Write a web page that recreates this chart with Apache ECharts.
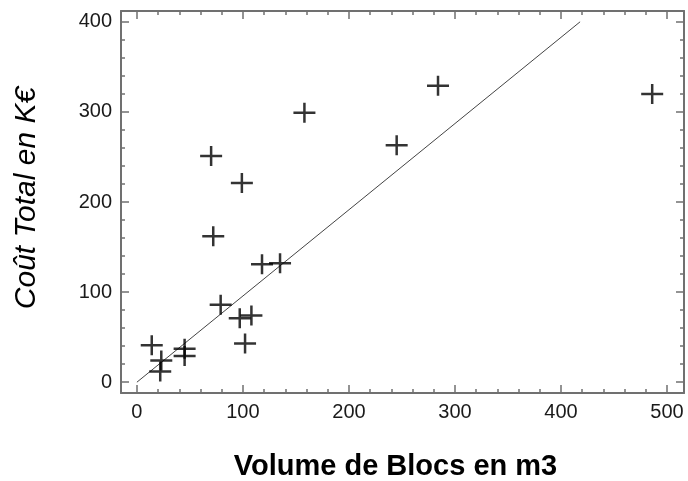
<!DOCTYPE html>
<html>
<head>
<meta charset="utf-8">
<script src="https://cdn.jsdelivr.net/npm/echarts@6/dist/echarts.min.js"></script>
<style>
  html, body { margin: 0; padding: 0; background: #fff; }
  #chart { width: 688px; height: 481px; }
</style>
</head>
<body>
<div id="chart"></div>
<script>
// Volume of blocks (m3) and total cost (K€) for each site
const volumes = [14, 23, 22, 45, 45, 70, 72, 79, 97, 108, 102, 118, 135, 99, 158, 245, 284, 486];
const costs   = [41, 24, 12, 37, 29, 251, 162, 86, 71, 74, 43, 131, 132, 221, 299, 263, 329, 320];

// Fitted trend line end points
const trendX = [0, 418];
const trendY = [0, 400];

const xRange = [-15, 516];
const yRange = [-12, 412];

const frameColor = '#707070';
const labelColor = '#1a1a1a';

// Plus-sign marker, 22 x 20 with arms about 2.5 px thick
const plusPath = 'path://M9.75,0H12.25V8.75H22V11.25H12.25V20H9.75V11.25H0V8.75H9.75Z';

function hundreds(v) { return Math.round(v) % 100 === 0 ? String(Math.round(v)) : ''; }

function makeAxis(range, pos, split, tickLen, opts) {
  return Object.assign({
    type: 'value',
    min: range[0],
    max: range[1],
    splitNumber: split,
    position: pos,
    axisLine: { show: false, onZero: false },
    axisTick: { show: true, inside: true, length: tickLen, lineStyle: { color: frameColor, width: 1.5 } },
    axisLabel: { show: false },
    splitLine: { show: false }
  }, opts || {});
}

const frameLine = { show: true, onZero: false, lineStyle: { color: frameColor, width: 2 } };
const tickFont = 'Liberation Sans, Arial, sans-serif';

const xAxes = [
  makeAxis(xRange, 'bottom', 5, 8, {
    axisLine: frameLine,
    axisLabel: { show: true, formatter: hundreds, fontSize: 20, color: labelColor, margin: 9,
                 fontFamily: tickFont, showMinLabel: false, showMaxLabel: false },
    name: 'Volume de Blocs en m3',
    nameLocation: 'middle',
    nameGap: 59,
    nameTextStyle: { fontSize: 29, fontWeight: 'bold', color: '#000',
                     fontFamily: tickFont, padding: [0, 14, 0, 0] }
  }),
  makeAxis(xRange, 'bottom', 26, 4),
  makeAxis(xRange, 'top', 5, 8, { axisLine: frameLine }),
  makeAxis(xRange, 'top', 26, 4)
];

const yAxes = [
  makeAxis(yRange, 'left', 4, 8, {
    axisLine: frameLine,
    axisLabel: { show: true, formatter: hundreds, fontSize: 20, color: labelColor, margin: 9,
                 fontFamily: tickFont, showMinLabel: false, showMaxLabel: false },
    name: 'Coût Total en K€',
    nameLocation: 'middle',
    nameRotate: 90,
    nameGap: 79,
    nameTextStyle: { fontSize: 30, fontStyle: 'italic', color: '#000', fontFamily: tickFont,
                     padding: [0, 0, 0, 8] }
  }),
  makeAxis(yRange, 'left', 21, 4),
  makeAxis(yRange, 'right', 4, 8, { axisLine: frameLine }),
  makeAxis(yRange, 'right', 21, 4)
];

const chart = echarts.init(document.getElementById('chart'), null, { renderer: 'canvas' });
chart.setOption({
  animation: false,
  backgroundColor: '#fff',
  grid: { left: 121, right: 4, top: 11, bottom: 88, containLabel: false, outerBoundsMode: 'none' },
  xAxis: xAxes,
  yAxis: yAxes,
  series: [
    {
      type: 'line',
      xAxisIndex: 0,
      yAxisIndex: 0,
      data: trendX.map((x, i) => [x, trendY[i]]),
      symbol: 'none',
      lineStyle: { color: '#444', width: 1 },
      z: 1
    },
    {
      type: 'scatter',
      xAxisIndex: 0,
      yAxisIndex: 0,
      data: volumes.map((v, i) => [v, costs[i]]),
      symbol: plusPath,
      symbolSize: [22, 20],
      itemStyle: { color: '#000' },
      z: 2
    }
  ]
});
</script>
</body>
</html>
